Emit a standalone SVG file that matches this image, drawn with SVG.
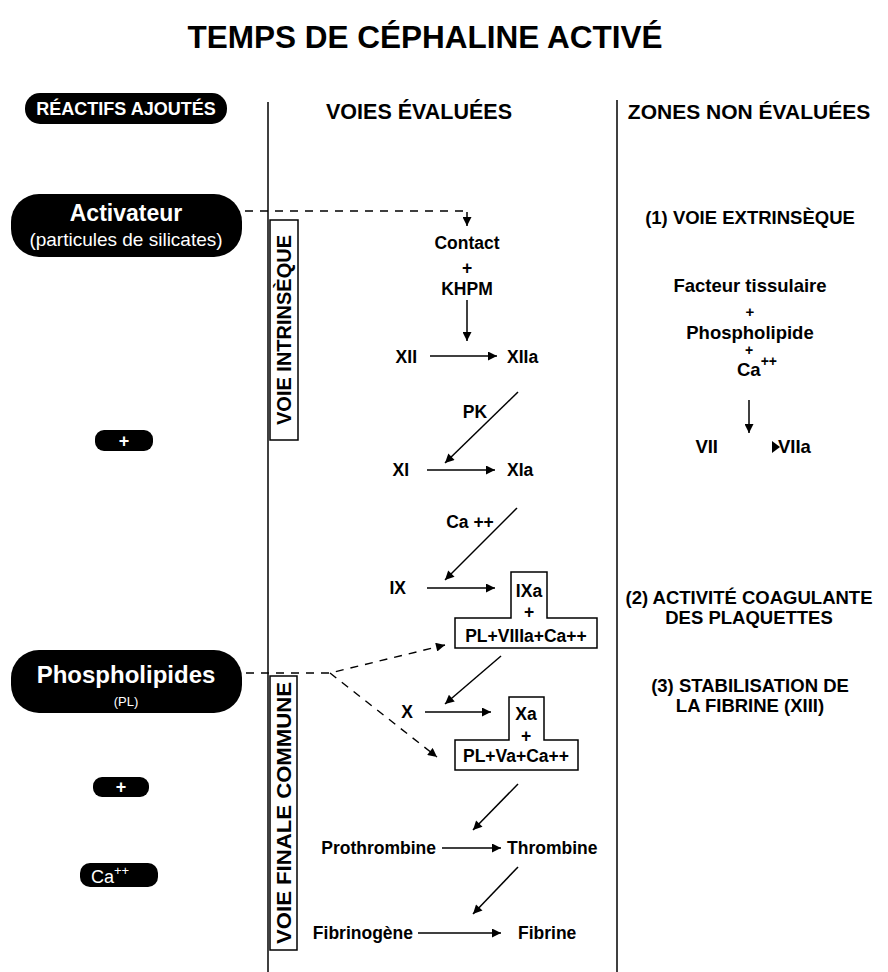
<svg xmlns="http://www.w3.org/2000/svg" width="888" height="972" viewBox="0 0 888 972">
<style>
text{font-family:"Liberation Sans",Arial,sans-serif;font-weight:bold;fill:#000}
.c{text-anchor:middle}
.e{text-anchor:end}
.w{fill:#fff}
.n{font-size:17.5px}
.r{font-size:18.5px}
.pill{fill:#000}
.ln{stroke:#000;stroke-width:1.5;fill:none}
.ds{stroke:#000;stroke-width:1.4;fill:none;stroke-dasharray:8 7}
.bx{stroke:#000;stroke-width:1.5;fill:#fff}
</style>
<defs>
<marker id="ah" viewBox="0 0 10 10" refX="10" refY="5" markerWidth="11" markerHeight="9" markerUnits="userSpaceOnUse" orient="auto"><path d="M0,0 L10,5 L0,10 z" fill="#000"/></marker>
</defs>

<g id="title"><text x="425" y="48" class="c" style="font-size:31.5px">TEMPS DE CÉPHALINE ACTIVÉ</text></g>

<g id="columns">
<line class="ln" x1="268" y1="102" x2="268" y2="972"/>
<line class="ln" x1="617" y1="100" x2="617" y2="972"/>
</g>

<g id="hdr-reactifs"><rect class="pill" x="25" y="93" width="202" height="31" rx="15"/><text x="126" y="115" class="c w" style="font-size:18px">RÉACTIFS AJOUTÉS</text></g>
<g id="hdr-voies"><text x="419" y="119" class="c" style="font-size:21.5px">VOIES ÉVALUÉES</text></g>
<g id="hdr-zones"><text x="749" y="119" class="c" style="font-size:21px">ZONES NON ÉVALUÉES</text></g>

<g id="activateur"><rect class="pill" x="11" y="194" width="231" height="63" rx="28"/><text x="126" y="221" class="c w" style="font-size:23px">Activateur</text><text x="126" y="246" class="c w" style="font-size:19px;font-weight:normal">(particules de silicates)</text></g>
<g id="plus1"><rect class="pill" x="95" y="430" width="58" height="21" rx="9"/><text x="124" y="447" class="c w" style="font-size:18px">+</text></g>
<g id="phospholipides"><rect class="pill" x="11" y="650" width="231" height="63" rx="28"/><text x="126" y="683" class="c w" style="font-size:24px">Phospholipides</text><text x="126" y="706" class="c w" style="font-size:13px;font-weight:normal">(PL)</text></g>
<g id="plus2"><rect class="pill" x="93" y="777" width="56" height="20" rx="9"/><text x="121" y="793" class="c w" style="font-size:18px">+</text></g>
<g id="ca-pill"><rect class="pill" x="80" y="863" width="78" height="24" rx="10"/><text x="110" y="883" class="c w" style="font-size:18px;font-weight:normal">Ca<tspan dy="-8" style="font-size:13px">++</tspan></text></g>

<g id="voie-intrinseque"><rect class="bx" x="270" y="220" width="28" height="220"/><text transform="translate(291,330) rotate(-90)" class="c" style="font-size:20px">VOIE INTRINSÈQUE</text></g>
<g id="voie-finale"><rect class="bx" x="270" y="676" width="27" height="274"/><text transform="translate(290.5,813) rotate(-90)" class="c" style="font-size:20px" textLength="262" lengthAdjust="spacingAndGlyphs">VOIE FINALE COMMUNE</text></g>

<g id="contact"><text x="467" y="249" class="c n">Contact</text><text x="467" y="274" class="c n">+</text><text x="467" y="295" class="c n">KHPM</text></g>
<g id="xii"><text x="417" y="363" class="e n">XII</text></g>
<g id="xiia"><text x="507" y="363" class="n">XIIa</text></g>
<g id="pk"><text x="475" y="418" class="c n">PK</text></g>
<g id="xi"><text x="409" y="476" class="e n">XI</text></g>
<g id="xia"><text x="507" y="476" class="n">XIa</text></g>
<g id="ca1"><text x="470" y="528" class="c n">Ca ++</text></g>
<g id="ix"><text x="406" y="594" class="e n">IX</text></g>
<g id="ixa"><path class="bx" d="M511,618 V572 H547 V618 H597 V648 H455 V618 Z"/><text x="529" y="597" class="c n">IXa</text><text x="529" y="618" class="c n">+</text><text x="526" y="642" class="c" style="font-size:17.5px">PL+VIIIa+Ca++</text></g>
<g id="x"><text x="413" y="718" class="e n">X</text></g>
<g id="xa"><path class="bx" d="M509,740 V697 H544 V740 H578 V770 H455 V740 Z"/><text x="526" y="720" class="c n">Xa</text><text x="526" y="742" class="c n">+</text><text x="516" y="762" class="c n">PL+Va+Ca++</text></g>
<g id="prothrombine"><text x="436" y="854" class="e n">Prothrombine</text></g>
<g id="thrombine"><text x="507" y="854" class="n">Thrombine</text></g>
<g id="fibrinogene"><text x="413" y="939" class="e n">Fibrinogène</text></g>
<g id="fibrine"><text x="518" y="939" class="n">Fibrine</text></g>

<g id="extrinseque"><text x="750" y="224" class="c r">(1) VOIE EXTRINSÈQUE</text><text x="750" y="292" class="c r">Facteur tissulaire</text><text x="750" y="317" class="c" style="font-size:15px">+</text><text x="750" y="339" class="c r">Phospholipide</text><text x="749" y="355" class="c" style="font-size:14px">+</text><text x="737" y="376" class="r">Ca<tspan dy="-10" style="font-size:14px">++</tspan></text></g>
<g id="vii"><text x="718" y="453" class="e r">VII</text></g>
<g id="viia"><text x="778" y="453" class="r">VIIa</text></g>
<g id="zone2"><text x="749" y="604" class="c r">(2) ACTIVITÉ COAGULANTE</text><text x="749" y="624" class="c r">DES PLAQUETTES</text></g>
<g id="zone3"><text x="750" y="692" class="c r">(3) STABILISATION DE</text><text x="750" y="712" class="c r">LA FIBRINE (XIII)</text></g>

<g id="connectors">
<path class="ds" d="M245,211 H463"/>
<line class="ln" x1="467" y1="212" x2="467" y2="226" marker-end="url(#ah)"/>
<line class="ln" x1="467" y1="300" x2="467" y2="341" marker-end="url(#ah)"/>
<line class="ln" x1="430" y1="356" x2="497" y2="356" marker-end="url(#ah)"/>
<line class="ln" x1="518" y1="392" x2="445" y2="463" marker-end="url(#ah)"/>
<line class="ln" x1="427" y1="470" x2="495" y2="470" marker-end="url(#ah)"/>
<line class="ln" x1="517" y1="508" x2="445" y2="580" marker-end="url(#ah)"/>
<line class="ln" x1="427" y1="588" x2="495" y2="588" marker-end="url(#ah)"/>
<line class="ln" x1="749" y1="400" x2="749" y2="433" marker-end="url(#ah)"/>
<path d="M772,441 L780,447 L772,453 z" fill="#000"/>
<path class="ds" d="M246,673 H330 L445,645" marker-end="url(#ah)"/>
<path class="ds" d="M330,673 L437,757" marker-end="url(#ah)"/>
<line class="ln" x1="501" y1="656" x2="445" y2="704" marker-end="url(#ah)"/>
<line class="ln" x1="425" y1="712" x2="491" y2="712" marker-end="url(#ah)"/>
<line class="ln" x1="518" y1="784" x2="473" y2="830" marker-end="url(#ah)"/>
<line class="ln" x1="442" y1="848" x2="501" y2="848" marker-end="url(#ah)"/>
<line class="ln" x1="518" y1="867" x2="473" y2="914" marker-end="url(#ah)"/>
<line class="ln" x1="418" y1="933" x2="501" y2="933" marker-end="url(#ah)"/>
</g>
</svg>
